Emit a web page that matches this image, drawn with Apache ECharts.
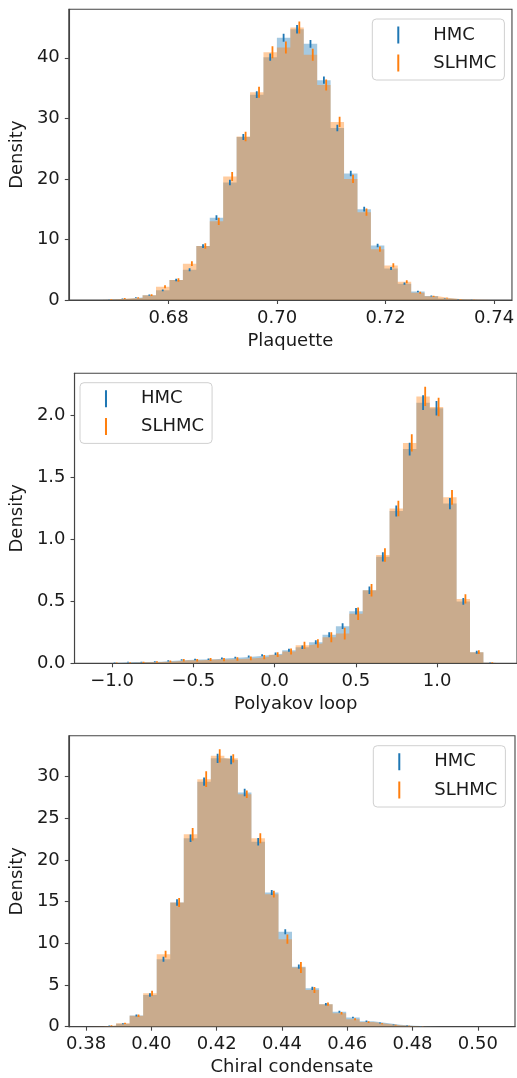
<!DOCTYPE html>
<html>
<head>
<meta charset="utf-8">
<script src="https://cdn.jsdelivr.net/npm/echarts@6/dist/echarts.min.js"></script>
<style>
html,body{margin:0;padding:0;background:#fff;}
#c{width:517px;height:1078px;}
</style>
</head>
<body>
<div id="c"></div>
<script>
// ---------- data ----------
// Panel 1: Plaquette (30 bins)
var plaqBinStart = 0.6653, plaqBinWidth = 0.002476;
var plaqHMC   = [0.01,0.1,0.2,0.4,0.8,1.6,3.3,5.0,8.9,13.6,19.4,26.9,33.9,40.1,43.3,44.7,42.3,36.3,28.4,20.9,15.0,9.0,5.2,2.7,1.4,0.65,0.25,0.08,0.02,0.0];
var plaqSLHMC = [0.02,0.1,0.25,0.35,0.8,2.2,3.3,6.0,8.9,13.0,20.4,27.0,34.3,40.9,41.7,45.0,40.5,35.5,29.4,20.0,14.5,8.4,5.7,3.0,1.2,0.6,0.3,0.1,0.03,0.01];
var plaqErrHMC   = [0,0.03,0.05,0.07,0.1,0.15,0.2,0.25,0.3,0.4,0.45,0.5,0.55,0.6,0.65,0.7,0.65,0.6,0.55,0.45,0.4,0.3,0.25,0.2,0.12,0.08,0.05,0.03,0.02,0];
var plaqErrSLHMC = [0,0.05,0.07,0.1,0.15,0.25,0.3,0.4,0.45,0.6,0.75,0.8,0.9,1.0,1.0,1.0,1.0,0.9,0.85,0.7,0.6,0.45,0.35,0.25,0.15,0.1,0.07,0.04,0.02,0.01];
var plaqXTicks = [0.68,0.70,0.72,0.74];
var plaqYTicks = [0,10,20,30,40];

// Panel 2: Polyakov loop (30 bins)
var polyBinStart = -1.108, polyBinWidth = 0.0825;
var polyHMC   = [0,0.005,0.01,0.01,0.012,0.02,0.027,0.03,0.032,0.04,0.046,0.054,0.065,0.078,0.105,0.13,0.17,0.23,0.30,0.42,0.59,0.86,1.23,1.73,2.105,2.06,1.29,0.50,0.09,0.005];
var polySLHMC = [0,0.003,0.005,0.008,0.01,0.015,0.025,0.025,0.03,0.03,0.035,0.04,0.05,0.07,0.095,0.145,0.16,0.21,0.24,0.40,0.59,0.875,1.25,1.78,2.155,2.07,1.34,0.52,0.09,0.005];
var polyErrHMC   = [0,0.002,0.003,0.003,0.004,0.005,0.005,0.006,0.006,0.007,0.007,0.008,0.009,0.01,0.012,0.014,0.016,0.02,0.023,0.026,0.03,0.037,0.045,0.052,0.06,0.058,0.045,0.028,0.012,0.002];
var polyErrSLHMC = [0,0.003,0.004,0.005,0.006,0.008,0.01,0.01,0.012,0.013,0.014,0.015,0.017,0.02,0.024,0.03,0.034,0.04,0.047,0.05,0.05,0.055,0.062,0.07,0.078,0.075,0.06,0.038,0.015,0.003];
var polyXTicks = [-1.0,-0.5,0.0,0.5,1.0];
var polyYTicks = [0,0.5,1.0,1.5,2.0];

// Panel 3: Chiral condensate (30 bins)
var chirBinStart = 0.3809, chirBinWidth = 0.004146;
var chirHMC   = [0,0.1,0.35,1.35,3.8,8.1,14.9,22.6,29.4,32.2,32.0,28.1,22.2,16.1,11.4,7.2,4.6,2.7,1.8,1.1,0.65,0.45,0.22,0.12,0.05,0,0,0,0,0];
var chirSLHMC = [0.02,0.15,0.4,1.3,4.0,8.7,14.9,23.1,29.7,32.5,32.2,27.9,22.6,15.9,10.5,7.1,4.4,2.7,1.6,0.9,0.55,0.35,0.18,0.08,0.03,0,0,0,0,0];
var chirErrHMC   = [0,0.03,0.06,0.12,0.2,0.3,0.4,0.45,0.5,0.55,0.5,0.45,0.45,0.3,0.3,0.25,0.2,0.15,0.12,0.1,0.08,0.06,0.04,0.03,0.02,0,0,0,0,0];
var chirErrSLHMC = [0,0.05,0.08,0.15,0.3,0.4,0.55,0.75,0.95,0.8,0.5,0.45,0.6,0.4,0.55,0.65,0.35,0.2,0.15,0.12,0.1,0.07,0.05,0.03,0.02,0,0,0,0,0];
var chirXTicks = [0.38,0.40,0.42,0.44,0.46,0.48,0.50];
var chirYTicks = [0,5,10,15,20,25,30];

var seriesNames = ['HMC','SLHMC'];
var xLabels = ['Plaquette','Polyakov loop','Chiral condensate'];
var yLabel = 'Density';

// ---------- styling ----------
var BLUE = '#1f77b4', ORANGE = '#ff7f0e';
var BLUE_FILL = 'rgba(31,119,180,0.4)', ORANGE_FILL = 'rgba(255,127,14,0.4)';
var FONT = 'DejaVu Sans';
var TXT = '#1a1a1a';
var SPINE = '#444';

var panels = [
  {start:plaqBinStart, w:plaqBinWidth, h:plaqHMC, s:plaqSLHMC, eh:plaqErrHMC, es:plaqErrSLHMC,
   xt:plaqXTicks, yt:plaqYTicks, xmin:0.6616, xmax:0.7433, ymax:48, xfmt:2, yfmt:0, off:0.00042,
   grid:{left:66.3, top:9.3, width:447, height:290.7}, yGap:38,
   legend:{left:372.3, top:19, gap:10}},
  {start:polyBinStart, w:polyBinWidth, h:polyHMC, s:polySLHMC, eh:polyErrHMC, es:polyErrSLHMC,
   xt:polyXTicks, yt:polyYTicks, xmin:-1.2307, xmax:1.491, ymax:2.342, xfmt:1, yfmt:1, off:0.013,
   grid:{left:70.3, top:373.3, width:448.3, height:290}, yGap:43,
   legend:{left:80, top:382.7, gap:9.7}},
  {start:chirBinStart, w:chirBinWidth, h:chirHMC, s:chirSLHMC, eh:chirErrHMC, es:chirErrSLHMC,
   xt:chirXTicks, yt:chirYTicks, xmin:0.3747, xmax:0.5114, ymax:34.92, xfmt:2, yfmt:0, off:0.00065,
   grid:{left:67.7, top:735.7, width:447.3, height:291}, yGap:37,
   legend:{left:373.3, top:745.7, gap:10.3}}
];

function fmt(v, d){ return v.toFixed(d).replace('-', '\u2212'); }

function errItem(color){
  return function(params, api){
    var x = api.value(0), y = api.value(1), e = api.value(2);
    var a = api.coord([x, y - e]), b = api.coord([x, y + e]);
    return {type:'line', shape:{x1:a[0], y1:a[1], x2:b[0], y2:b[1]},
            style:{stroke:color, lineWidth:1.8}};
  };
}

var LEGEND_ICON = 'path://M17,0h2v17h-2zM0,0h0.01v0.01h-0.01zM48,17h0.01v0.01h-0.01z';

var option = {
  backgroundColor:'#fff',
  animation:false,
  grid:[], xAxis:[], yAxis:[], series:[], legend:[]
};

function stepData(start, w, vals){
  var d = [[start, 0]];
  for (var k = 0; k < vals.length; k++) d.push([start + k*w, vals[k]]);
  var end = start + vals.length*w;
  d.push([end, vals[vals.length-1]]);
  d.push([end, 0]);
  return d;
}

panels.forEach(function(p, i){
  option.grid.push({left:p.grid.left, top:p.grid.top, width:p.grid.width, height:p.grid.height,
    show:true, borderColor:SPINE, borderWidth:1.1, backgroundColor:'transparent', containLabel:false});
  option.xAxis.push({type:'value', gridIndex:i, min:p.xmin, max:p.xmax,
    name:xLabels[i], nameLocation:'middle', nameGap:32,
    nameTextStyle:{fontFamily:FONT, fontSize:18, color:TXT},
    axisLine:{show:true, onZero:false, lineStyle:{color:SPINE, width:1.1}},
    axisTick:{show:true, length:4, inside:false, customValues:p.xt, lineStyle:{color:SPINE, width:1.1}},
    axisLabel:{show:true, customValues:p.xt, margin:9, fontFamily:FONT, fontSize:18, color:TXT,
      formatter:(function(d){return function(v){return fmt(v,d);};})(p.xfmt)},
    splitLine:{show:false}});
  option.yAxis.push({type:'value', gridIndex:i, min:0, max:p.ymax,
    name:yLabel, nameLocation:'middle', nameGap:p.yGap,
    nameTextStyle:{fontFamily:FONT, fontSize:18, color:TXT},
    axisLine:{show:true, onZero:false, lineStyle:{color:SPINE, width:1.1}},
    axisTick:{show:true, length:4, inside:false, customValues:p.yt, lineStyle:{color:SPINE, width:1.1}},
    axisLabel:{show:true, customValues:p.yt, margin:9, fontFamily:FONT, fontSize:18, color:TXT,
      formatter:(function(d){return function(v){return fmt(v,d);};})(p.yfmt)},
    splitLine:{show:false}});

  var errH = [], errS = [];
  for (var k = 0; k < p.h.length; k++){
    var xc = p.start + k*p.w + p.w/2;
    errH.push([xc, p.h[k], p.eh[k]]);
    errS.push([xc + p.off, p.s[k], p.es[k]]);
  }
  option.series.push({type:'line', name:'HMC histogram', xAxisIndex:i, yAxisIndex:i, z:1,
    data:stepData(p.start, p.w, p.h), step:'end', symbol:'none', showSymbol:false,
    lineStyle:{width:0, color:BLUE_FILL}, itemStyle:{color:BLUE_FILL},
    areaStyle:{color:BLUE_FILL, opacity:1, origin:'start'}, silent:true, clip:true});
  option.series.push({type:'line', name:'SLHMC histogram', xAxisIndex:i, yAxisIndex:i, z:2,
    data:stepData(p.start, p.w, p.s), step:'end', symbol:'none', showSymbol:false,
    lineStyle:{width:0, color:ORANGE_FILL}, itemStyle:{color:ORANGE_FILL},
    areaStyle:{color:ORANGE_FILL, opacity:1, origin:'start'}, silent:true, clip:true});
  option.series.push({type:'custom', name:seriesNames[0], xAxisIndex:i, yAxisIndex:i, z:3,
    renderItem:errItem(BLUE), data:errH, encode:{x:0, y:1}, itemStyle:{color:BLUE}, clip:true, silent:true});
  option.series.push({type:'custom', name:seriesNames[1], xAxisIndex:i, yAxisIndex:i, z:4,
    renderItem:errItem(ORANGE), data:errS, encode:{x:0, y:1}, itemStyle:{color:ORANGE}, clip:true, silent:true});

  option.legend.push({data:seriesNames, orient:'vertical', left:p.legend.left, top:p.legend.top,
    icon:LEGEND_ICON, itemWidth:48, itemHeight:17, itemGap:p.legend.gap,
    padding:[7,8,8,8], backgroundColor:'rgba(255,255,255,0.8)', borderColor:'#d0d0d0', borderWidth:1, borderRadius:4,
    selectedMode:false, itemStyle:{borderWidth:0},
    textStyle:{fontFamily:FONT, fontSize:18, color:TXT}, z:10});
});

var chart = echarts.init(document.getElementById('c'), null, {renderer:'canvas', width:517, height:1078});
chart.setOption(option);
</script>
</body>
</html>
